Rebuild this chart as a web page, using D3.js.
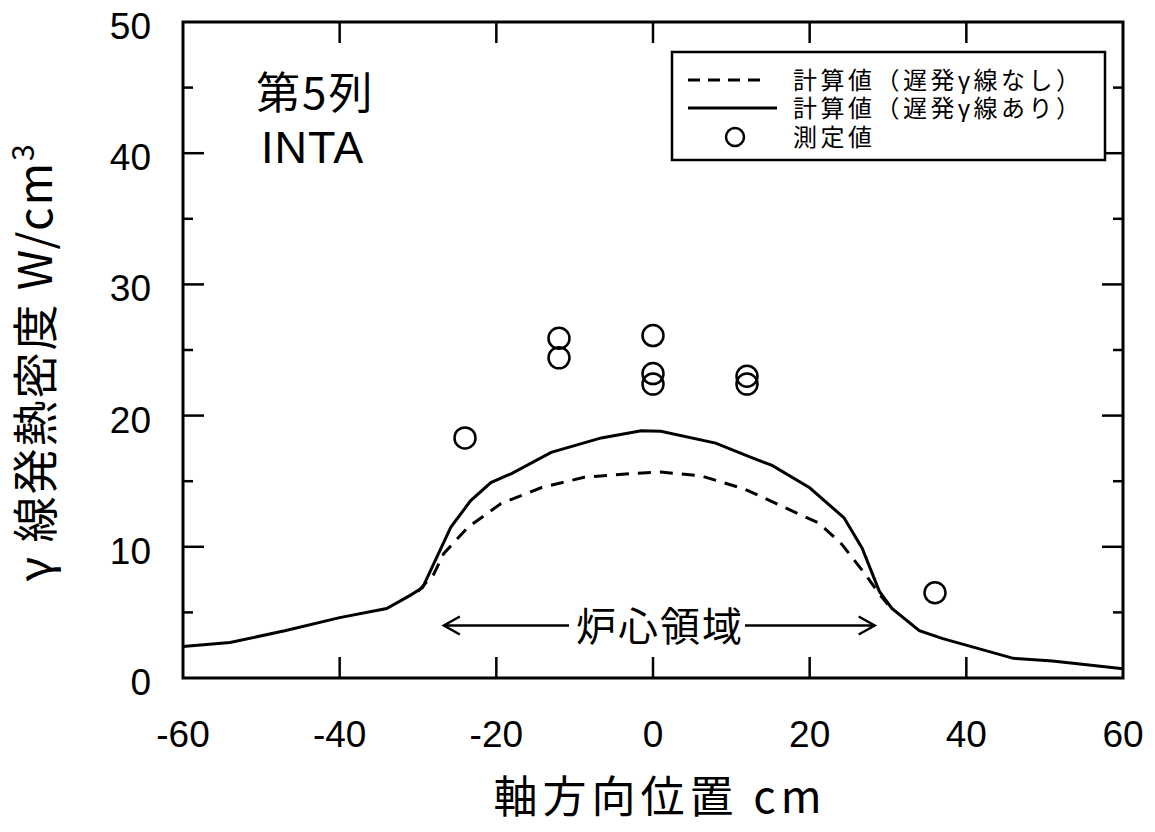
<!DOCTYPE html>
<html><head><meta charset="utf-8">
<script src="https://cdn.jsdelivr.net/npm/d3@7"></script>
<style>
body{margin:0;background:#fff;}
svg text{font-family:"Liberation Sans","Noto Sans CJK JP",sans-serif;fill:#000;}
.jp{font-family:"Noto Sans CJK JP","Liberation Sans",sans-serif;}
</style></head>
<body>
<svg id="c" width="1155" height="832"></svg>
<script>
// Data
const solidX = [-60,-54,-47,-40,-34,-31,-29.4,-28,-25.8,-23.3,-20.7,-18,-13,-6.6,-1.5,1,8,12.6,15.2,20,24.4,26.7,28.9,30.5,34,37,46,51,60];
const solidY = [2.4,2.7,3.6,4.6,5.3,6.3,6.9,8.7,11.5,13.5,14.9,15.6,17.2,18.3,18.85,18.8,17.9,16.8,16.2,14.5,12.2,9.9,6.6,5.3,3.6,3.0,1.5,1.3,0.7];
const dashX = [-30,-28,-26.7,-23.6,-19.4,-14.3,-8.8,-2.4,1,6.2,11.7,16.8,21.2,24.1,27.1,28.9,30];
const dashY = [6.6,7.9,9.5,11.5,13.3,14.5,15.3,15.6,15.7,15.4,14.4,13,11.8,10.2,7.9,6.4,5.6];
const measX = [-24,-12,-12,0,0,0,12,12,36];
const measY = [18.3,25.9,24.4,26.1,23.2,22.4,23.0,22.4,6.5];
const xTicks = [-60,-40,-20,0,20,40,60];
const yTicks = [0,10,20,30,40,50];
const yMinor = [5,15,25,35,45];
const legendLabels = ["計算値（遅発γ線なし）","計算値（遅発γ線あり）","測定値"];
const coreLabel = "炉心領域";
const coreRange = [-26.7, 28.3];
const coreY = 4.0;

const L=183, R=1123, T=22, B=678;
const svg = d3.select("#c");
const x = d3.scaleLinear().domain([-60,60]).range([L,R]);
const y = d3.scaleLinear().domain([0,50]).range([B,T]);

// frame
svg.append("rect").attr("x",L).attr("y",T).attr("width",R-L).attr("height",B-T)
  .attr("fill","none").attr("stroke","#000").attr("stroke-width",3);

// ticks
const tk = svg.append("g").attr("stroke","#000").attr("stroke-width",2.5);
xTicks.slice(1,-1).forEach(v=>{
  tk.append("line").attr("x1",x(v)).attr("x2",x(v)).attr("y1",B).attr("y2",B-21);
  tk.append("line").attr("x1",x(v)).attr("x2",x(v)).attr("y1",T).attr("y2",T+21);
});
yTicks.slice(1,-1).forEach(v=>{
  tk.append("line").attr("x1",L).attr("x2",L+21).attr("y1",y(v)).attr("y2",y(v));
  tk.append("line").attr("x1",R).attr("x2",R-21).attr("y1",y(v)).attr("y2",y(v));
});
yMinor.forEach(v=>{
  tk.append("line").attr("x1",L).attr("x2",L+10).attr("y1",y(v)).attr("y2",y(v));
  tk.append("line").attr("x1",R).attr("x2",R-10).attr("y1",y(v)).attr("y2",y(v));
});

// tick labels
svg.selectAll(".xl").data(xTicks).enter().append("text")
  .attr("x",d=>x(d)).attr("y",747).attr("text-anchor","middle")
  .attr("font-size",37).text(d=>d);
svg.selectAll(".yl").data(yTicks).enter().append("text")
  .attr("x",151).attr("y",d=>y(d)+17).attr("text-anchor","end")
  .attr("font-size",37).text(d=>d);

// axis titles
svg.append("text").attr("class","jp").attr("x",660).attr("y",813)
  .attr("text-anchor","middle").attr("font-size",44).attr("letter-spacing",5).text("軸方向位置 cm");
const yt = svg.append("text").attr("class","jp")
  .attr("transform","translate(52,362) rotate(-90)").attr("text-anchor","middle")
  .attr("font-size",46).attr("letter-spacing",2);
yt.append("tspan").text("γ 線発熱密度 W/cm");
yt.append("tspan").attr("font-size",30).attr("dy",-18).text("3");

// curves
const line = d3.line().x(d=>x(d[0])).y(d=>y(d[1]));
svg.append("path").datum(dashX.map((v,i)=>[v,dashY[i]])).attr("d",line)
  .attr("fill","none").attr("stroke","#000").attr("stroke-width",3).attr("stroke-dasharray","13,9");
svg.append("path").datum(solidX.map((v,i)=>[v,solidY[i]])).attr("d",line)
  .attr("fill","none").attr("stroke","#000").attr("stroke-width",3);

// points
svg.selectAll(".pt").data(measX.map((v,i)=>[v,measY[i]])).enter().append("circle")
  .attr("cx",d=>x(d[0])).attr("cy",d=>y(d[1])).attr("r",10.5)
  .attr("fill","none").attr("stroke","#000").attr("stroke-width",2.5);

// core region annotation
const cy = y(coreY);
svg.append("text").attr("class","jp").attr("x",x(0)+7).attr("y",cy+15).attr("text-anchor","middle")
  .attr("font-size",40).attr("letter-spacing",2).text(coreLabel);
const ag = svg.append("g").attr("stroke","#000").attr("stroke-width",2.5).attr("fill","none");
ag.append("line").attr("x1",x(coreRange[0])).attr("x2",569).attr("y1",cy).attr("y2",cy);
ag.append("line").attr("x1",745).attr("x2",x(coreRange[1])).attr("y1",cy).attr("y2",cy);
ag.append("path").attr("d",`M${x(coreRange[0])+16},${cy-9} L${x(coreRange[0])},${cy} L${x(coreRange[0])+16},${cy+9}`);
ag.append("path").attr("d",`M${x(coreRange[1])-16},${cy-9} L${x(coreRange[1])},${cy} L${x(coreRange[1])-16},${cy+9}`);

// title
svg.append("text").attr("class","jp").attr("x",256).attr("y",109).attr("font-size",44).attr("letter-spacing",2).text("第5列");
svg.append("text").attr("x",261).attr("y",163).attr("font-size",45).attr("letter-spacing",1).text("INTA");

// legend
svg.append("rect").attr("x",672).attr("y",52).attr("width",433).attr("height",108)
  .attr("fill","#fff").attr("stroke","#000").attr("stroke-width",2.5);
const ly = [80,108,137];
svg.append("line").attr("x1",688).attr("x2",767).attr("y1",ly[0]).attr("y2",ly[0])
  .attr("stroke","#000").attr("stroke-width",3).attr("stroke-dasharray","12,8");
svg.append("line").attr("x1",688).attr("x2",777).attr("y1",ly[1]).attr("y2",ly[1])
  .attr("stroke","#000").attr("stroke-width",3);
svg.append("circle").attr("cx",735).attr("cy",ly[2]).attr("r",9)
  .attr("fill","none").attr("stroke","#000").attr("stroke-width",2.5);
legendLabels.forEach((t,i)=>{
  svg.append("text").attr("x",793).attr("y",ly[i]+9).attr("font-size",24)
    .attr("letter-spacing",3.5).text(t);
});
</script>
</body></html>
